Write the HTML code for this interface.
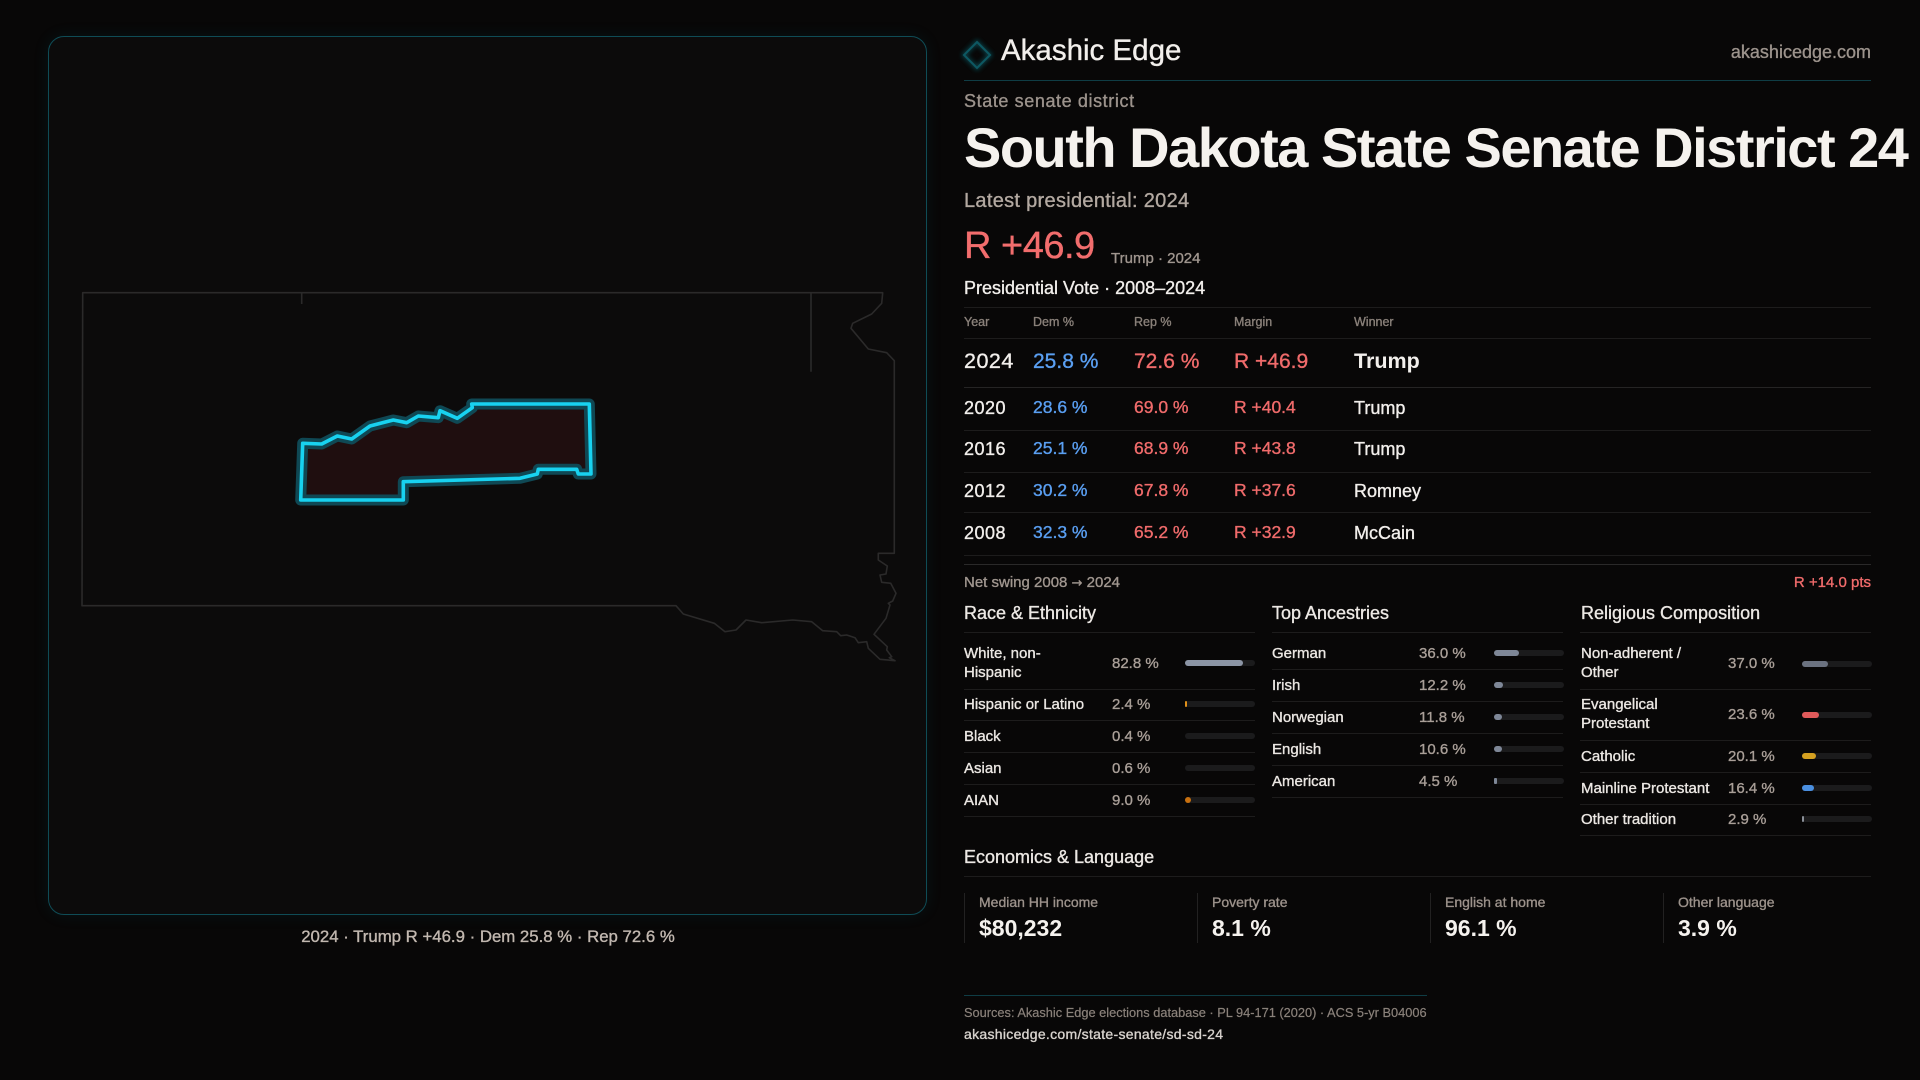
<!DOCTYPE html>
<html>
<head>
<meta charset="utf-8">
<style>
  html,body{margin:0;padding:0;}
  body{width:1920px;height:1080px;background:#080707;position:relative;overflow:hidden;
       font-family:"Liberation Sans","DejaVu Sans",sans-serif;color:#f2efec;}
  .t{position:absolute;white-space:nowrap;line-height:1;-webkit-text-stroke-width:0.35px;}
  .hl{position:absolute;height:1px;background:#1d1c1c;}
  .panel{position:absolute;left:48px;top:36px;width:877px;height:877px;border:1.5px solid #0f4c56;
         border-radius:16px;background:#0c0b0b;box-shadow:0 0 16px rgba(20,140,160,0.10);}
  .lab{font-size:15px;color:#ebe7e3;}
  .val{font-size:15px;color:#a99f98;}
  .lab2{position:absolute;white-space:nowrap;font-size:15px;line-height:19px;color:#ebe7e3;-webkit-text-stroke-width:0.35px;}
  .trk{position:absolute;height:6px;width:70px;border-radius:3px;background:#1b1b1c;}
  .fil{position:absolute;left:0;top:0;height:6px;border-radius:3px;}
  .sh{font-size:18px;color:#ece8e4;}
  .th{font-size:12.5px;color:#8a817a;}
  .yr{font-size:18px;color:#f2efec;letter-spacing:0.5px;}
  .dm{font-size:17.5px;color:#5a9ff2;}
  .rp{font-size:17.5px;color:#f06b6b;}
  .wn{font-size:18px;color:#f2efec;}
  .el{font-size:14px;color:#9c928b;}
  .ev{font-size:23px;font-weight:bold;color:#f5f2ee;-webkit-text-stroke-width:0;}
  .vd{position:absolute;width:1px;height:50px;top:893px;background:#222121;}
</style>
</head>
<body>

<div class="panel"></div>

<svg width="1920" height="1080" style="position:absolute;left:0;top:0" xmlns="http://www.w3.org/2000/svg">
  <defs>
    <filter id="glow" x="-20%" y="-20%" width="140%" height="140%">
      <feGaussianBlur stdDeviation="2.5"/>
    </filter>
  </defs>
  <path d="M82.7,292.7 L882.7,292.7 L881.7,303.3 L871.7,314 L852.7,323.3 L851,328.3 L868.3,349 L886.7,352.7 L894.3,360.7 L894.3,553.3 L878.3,553.3 L878.3,560 L887.3,566 L886,574 L880,575 L881.7,582.3 L890.7,583.3 L896,593.3 L892.7,601 L888.3,603.3 L890,605 L886,618.3 L874,634.3 L887.3,646.7 L886.7,650 L891.7,656.7 L889.3,657.7 L895,660.7 L880,659.3 L868.3,648.3 L866.7,641.7 L858.3,642.7 L855,637.7 L846.7,635 L840.7,635.7 L836.7,631.7 L822.7,630.7 L811.7,621.7 L792.7,620 L761.7,622.7 L746,620 L736,630 L725,631.7 L714.3,623.3 L683.3,614 L676,605.7 L82,605.7 Z"
        fill="none" stroke="#2b2a2a" stroke-width="1.6" stroke-linejoin="round"/>
  <path d="M301.7,292.7 L301.7,304 M811,293 L811,371.7" stroke="#2b2a2a" stroke-width="1.6" fill="none"/>
  <path d="M300.7,500 L302.7,443.3 L321.7,444 L337.3,436 L351.7,439 L370,426 L393.3,420 L406.7,422.7 L418.3,416 L438.3,417.7 L440,410.7 L457.3,418.3 L472.3,407.7 L471.7,404 L589.3,404 L591,474 L578.3,474 L576.7,469.3 L538.3,469.3 L537.3,474 L520,478.3 L403.3,481.7 L403.3,500 Z"
        fill="#1f0e0f" stroke="#0f4854" stroke-width="11" stroke-linejoin="round"/>
  <path d="M300.7,500 L302.7,443.3 L321.7,444 L337.3,436 L351.7,439 L370,426 L393.3,420 L406.7,422.7 L418.3,416 L438.3,417.7 L440,410.7 L457.3,418.3 L472.3,407.7 L471.7,404 L589.3,404 L591,474 L578.3,474 L576.7,469.3 L538.3,469.3 L537.3,474 L520,478.3 L403.3,481.7 L403.3,500 Z"
        fill="none" stroke="#18d2f0" stroke-width="3.6" stroke-linejoin="round"/>
  <polygon points="977,42 990,55 977,68 964,55" fill="none" stroke="#0d6a76" stroke-width="4" filter="url(#glow)" opacity="0.6"/>
  <polygon points="977,42 990,55 977,68 964,55" fill="none" stroke="#0d5862" stroke-width="2"/>
</svg>

<div class="t" style="left:288px;width:400px;text-align:center;top:928.5px;font-size:16.8px;color:#c2b8b0;">2024 · Trump R +46.9 · Dem 25.8 % · Rep 72.6 %</div>

<div class="t" style="left:1001px;top:36px;font-size:29.5px;color:#f2efec;">Akashic Edge</div>
<div class="t" style="right:49px;top:43px;font-size:18px;color:#9c938c;">akashicedge.com</div>
<div class="hl" style="left:964px;top:80px;width:907px;background:#0f3d45;"></div>

<div class="t" style="left:964px;top:92px;font-size:18px;color:#9c938c;letter-spacing:0.6px;">State senate district</div>
<div class="t" style="left:964px;top:120px;font-size:56px;font-weight:bold;letter-spacing:-1.5px;color:#f5f2ee;-webkit-text-stroke-width:0;">South Dakota State Senate District 24</div>
<div class="t" style="left:964px;top:191px;font-size:20px;color:#b3a9a1;letter-spacing:0.3px;">Latest presidential: 2024</div>
<div class="t" style="left:964px;top:227px;font-size:38px;color:#f26d6d;letter-spacing:-0.5px;">R +46.9</div>
<div class="t" style="left:1111px;top:250.5px;font-size:15px;color:#a0968f;">Trump · 2024</div>
<div class="t" style="left:964px;top:279px;font-size:18px;color:#f2efec;">Presidential Vote · 2008–2024</div>

<div class="hl" style="left:964px;top:307px;width:907px;"></div>
<div class="t th" style="left:964px;top:316px;">Year</div>
<div class="t th" style="left:1033px;top:316px;">Dem %</div>
<div class="t th" style="left:1134px;top:316px;">Rep %</div>
<div class="t th" style="left:1234px;top:316px;">Margin</div>
<div class="t th" style="left:1354px;top:316px;">Winner</div>
<div class="hl" style="left:964px;top:338px;width:907px;"></div>

<div class="t yr" style="left:964px;top:350.5px;font-size:21.5px;">2024</div>
<div class="t dm" style="left:1033px;top:350.5px;font-size:21px;">25.8 %</div>
<div class="t rp" style="left:1134px;top:350.5px;font-size:21px;">72.6 %</div>
<div class="t rp" style="left:1234px;top:350.5px;font-size:21px;">R +46.9</div>
<div class="t wn" style="left:1354px;top:350.5px;font-size:21.5px;font-weight:bold;-webkit-text-stroke-width:0;">Trump</div>
<div class="hl" style="left:964px;top:387px;width:907px;background:#252424;"></div>

<div class="t yr" style="left:964px;top:399px;">2020</div>
<div class="t dm" style="left:1033px;top:399px;">28.6 %</div>
<div class="t rp" style="left:1134px;top:399px;">69.0 %</div>
<div class="t rp" style="left:1234px;top:399px;">R +40.4</div>
<div class="t wn" style="left:1354px;top:399px;">Trump</div>
<div class="hl" style="left:964px;top:430px;width:907px;"></div>

<div class="t yr" style="left:964px;top:440px;">2016</div>
<div class="t dm" style="left:1033px;top:440px;">25.1 %</div>
<div class="t rp" style="left:1134px;top:440px;">68.9 %</div>
<div class="t rp" style="left:1234px;top:440px;">R +43.8</div>
<div class="t wn" style="left:1354px;top:440px;">Trump</div>
<div class="hl" style="left:964px;top:472px;width:907px;"></div>

<div class="t yr" style="left:964px;top:482px;">2012</div>
<div class="t dm" style="left:1033px;top:482px;">30.2 %</div>
<div class="t rp" style="left:1134px;top:482px;">67.8 %</div>
<div class="t rp" style="left:1234px;top:482px;">R +37.6</div>
<div class="t wn" style="left:1354px;top:482px;">Romney</div>
<div class="hl" style="left:964px;top:512px;width:907px;"></div>

<div class="t yr" style="left:964px;top:524px;">2008</div>
<div class="t dm" style="left:1033px;top:524px;">32.3 %</div>
<div class="t rp" style="left:1134px;top:524px;">65.2 %</div>
<div class="t rp" style="left:1234px;top:524px;">R +32.9</div>
<div class="t wn" style="left:1354px;top:524px;">McCain</div>
<div class="hl" style="left:964px;top:555px;width:907px;"></div>
<div class="hl" style="left:964px;top:564px;width:907px;background:#2a2929;"></div>

<div class="t" style="left:964px;top:574.5px;font-size:15px;color:#a0968f;">Net swing 2008 <span style="font-family:'DejaVu Sans',sans-serif;font-size:13px;">→</span> 2024</div>
<div class="t" style="right:49px;top:574.5px;font-size:15px;color:#f06b6b;">R +14.0 pts</div>

<div class="t sh" style="left:964px;top:604px;">Race &amp; Ethnicity</div>
<div class="t sh" style="left:1272px;top:604px;">Top Ancestries</div>
<div class="t sh" style="left:1581px;top:604px;">Religious Composition</div>
<div class="hl" style="left:964px;top:632px;width:291px;"></div>
<div class="hl" style="left:1272px;top:632px;width:291px;"></div>
<div class="hl" style="left:1580px;top:632px;width:291px;"></div>

<div class="lab2" style="left:964px;top:643.5px;">White, non-<br>Hispanic</div>
<div class="t val" style="left:1112px;top:655.5px;">82.8 %</div>
<div class="trk" style="left:1185px;top:660px;"><div class="fil" style="width:58px;background:#8c95a5;"></div></div>
<div class="hl" style="left:964px;top:689px;width:291px;"></div>

<div class="t lab" style="left:964px;top:697px;">Hispanic or Latino</div>
<div class="t val" style="left:1112px;top:697px;">2.4 %</div>
<div class="trk" style="left:1185px;top:701px;"><div class="fil" style="width:2px;border-radius:1px;background:#e0901a;"></div></div>
<div class="hl" style="left:964px;top:720px;width:291px;"></div>

<div class="t lab" style="left:964px;top:729px;">Black</div>
<div class="t val" style="left:1112px;top:729px;">0.4 %</div>
<div class="trk" style="left:1185px;top:733px;"></div>
<div class="hl" style="left:964px;top:752px;width:291px;"></div>

<div class="t lab" style="left:964px;top:761px;">Asian</div>
<div class="t val" style="left:1112px;top:761px;">0.6 %</div>
<div class="trk" style="left:1185px;top:765px;"></div>
<div class="hl" style="left:964px;top:784px;width:291px;"></div>

<div class="t lab" style="left:964px;top:793px;">AIAN</div>
<div class="t val" style="left:1112px;top:793px;">9.0 %</div>
<div class="trk" style="left:1185px;top:797px;"><div class="fil" style="width:6px;background:#c8700f;"></div></div>
<div class="hl" style="left:964px;top:816px;width:291px;"></div>

<div class="t lab" style="left:1272px;top:645.5px;">German</div>
<div class="t val" style="left:1419px;top:645.5px;">36.0 %</div>
<div class="trk" style="left:1494px;top:650px;"><div class="fil" style="width:25px;background:#7e8797;"></div></div>
<div class="hl" style="left:1272px;top:669px;width:291px;"></div>

<div class="t lab" style="left:1272px;top:677.5px;">Irish</div>
<div class="t val" style="left:1419px;top:677.5px;">12.2 %</div>
<div class="trk" style="left:1494px;top:682px;"><div class="fil" style="width:8.5px;background:#7e8797;"></div></div>
<div class="hl" style="left:1272px;top:701px;width:291px;"></div>

<div class="t lab" style="left:1272px;top:709.5px;">Norwegian</div>
<div class="t val" style="left:1419px;top:709.5px;">11.8 %</div>
<div class="trk" style="left:1494px;top:714px;"><div class="fil" style="width:8px;background:#7e8797;"></div></div>
<div class="hl" style="left:1272px;top:733px;width:291px;"></div>

<div class="t lab" style="left:1272px;top:741.5px;">English</div>
<div class="t val" style="left:1419px;top:741.5px;">10.6 %</div>
<div class="trk" style="left:1494px;top:746px;"><div class="fil" style="width:7.5px;background:#7e8797;"></div></div>
<div class="hl" style="left:1272px;top:765px;width:291px;"></div>

<div class="t lab" style="left:1272px;top:773.5px;">American</div>
<div class="t val" style="left:1419px;top:773.5px;">4.5 %</div>
<div class="trk" style="left:1494px;top:778px;"><div class="fil" style="width:3px;border-radius:1px;background:#7e8797;"></div></div>
<div class="hl" style="left:1272px;top:797px;width:291px;"></div>

<div class="lab2" style="left:1581px;top:643.5px;">Non-adherent /<br>Other</div>
<div class="t val" style="left:1728px;top:655.5px;">37.0 %</div>
<div class="trk" style="left:1802px;top:661px;"><div class="fil" style="width:26px;background:#6b7280;"></div></div>
<div class="hl" style="left:1580px;top:689px;width:291px;"></div>

<div class="lab2" style="left:1581px;top:695px;">Evangelical<br>Protestant</div>
<div class="t val" style="left:1728px;top:706.5px;">23.6 %</div>
<div class="trk" style="left:1802px;top:712px;"><div class="fil" style="width:16.5px;background:#e05a5a;"></div></div>
<div class="hl" style="left:1580px;top:740px;width:291px;"></div>

<div class="t lab" style="left:1581px;top:748.5px;">Catholic</div>
<div class="t val" style="left:1728px;top:748.5px;">20.1 %</div>
<div class="trk" style="left:1802px;top:753px;"><div class="fil" style="width:14px;background:#d4a020;"></div></div>
<div class="hl" style="left:1580px;top:772px;width:291px;"></div>

<div class="t lab" style="left:1581px;top:780.5px;">Mainline Protestant</div>
<div class="t val" style="left:1728px;top:780.5px;">16.4 %</div>
<div class="trk" style="left:1802px;top:785px;"><div class="fil" style="width:11.5px;background:#4a8fe0;"></div></div>
<div class="hl" style="left:1580px;top:804px;width:291px;"></div>

<div class="t lab" style="left:1581px;top:811.5px;">Other tradition</div>
<div class="t val" style="left:1728px;top:811.5px;">2.9 %</div>
<div class="trk" style="left:1802px;top:816px;"><div class="fil" style="width:2px;border-radius:1px;background:#8a8f98;"></div></div>
<div class="hl" style="left:1580px;top:835px;width:291px;"></div>

<div class="t sh" style="left:964px;top:848px;">Economics &amp; Language</div>
<div class="hl" style="left:964px;top:876px;width:907px;"></div>
<div class="vd" style="left:964px;"></div>
<div class="vd" style="left:1197px;"></div>
<div class="vd" style="left:1430px;"></div>
<div class="vd" style="left:1663px;"></div>
<div class="t el" style="left:979px;top:895px;">Median HH income</div>
<div class="t ev" style="left:979px;top:916.5px;">$80,232</div>
<div class="t el" style="left:1212px;top:895px;">Poverty rate</div>
<div class="t ev" style="left:1212px;top:916.5px;">8.1 %</div>
<div class="t el" style="left:1445px;top:895px;">English at home</div>
<div class="t ev" style="left:1445px;top:916.5px;">96.1 %</div>
<div class="t el" style="left:1678px;top:895px;">Other language</div>
<div class="t ev" style="left:1678px;top:916.5px;">3.9 %</div>

<div class="hl" style="left:964px;top:995px;width:463px;background:#0f3d45;"></div>
<div class="t" style="left:964px;top:1006.5px;font-size:12.8px;color:#8a817a;-webkit-text-stroke-width:0.2px;">Sources: Akashic Edge elections database · PL 94-171 (2020) · ACS 5-yr B04006</div>
<div class="t" style="left:964px;top:1027px;font-size:14px;color:#d8d3ce;letter-spacing:0.3px;">akashicedge.com/state-senate/sd-sd-24</div>

</body>
</html>
